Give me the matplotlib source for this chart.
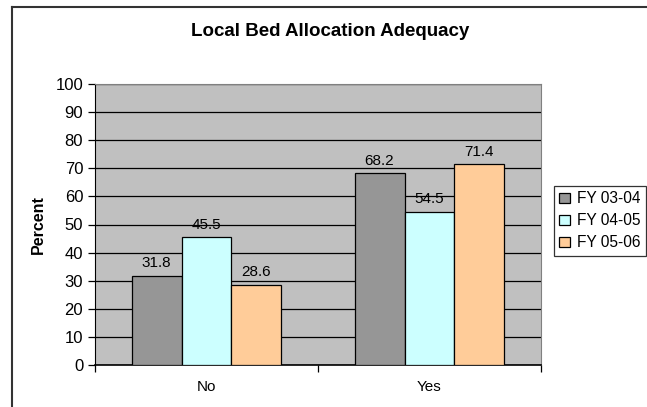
import numpy as np
from matplotlib import pyplot as plt
from matplotlib.lines import Line2D

categories = ['No', 'Yes']
series = ['FY 03-04', 'FY 04-05', 'FY 05-06']
fy0304 = [31.8, 68.2]
fy0405 = [45.5, 54.5]
fy0506 = [28.6, 71.4]
colors = ['#969696', '#CCFFFF', '#FFCC99']

plt.rcParams['font.family'] = ['Liberation Sans', 'DejaVu Sans']

fig = plt.figure(figsize=(6.47, 4.07), dpi=100)
ax = fig.add_axes([95/647, 42/407, 446/647, 281/407])
ax.set_facecolor('#C0C0C0')

x = np.arange(len(categories))
w = 0.224
for i, (vals, col) in enumerate(zip([fy0304, fy0405, fy0506], colors)):
    pos = x + (i - 1) * w
    bars = ax.bar(pos, vals, w, color=col, edgecolor='black', linewidth=0.9,
                  label=series[i], zorder=3)
    for p, v in zip(pos, vals):
        ax.annotate(f'{v}', (p, v), xytext=(0, 4), textcoords='offset points',
                    ha='center', va='bottom', fontsize=11)

ax.set_ylim(0, 100)
ax.set_xlim(-0.5, 1.5)
ax.set_yticks(range(0, 101, 10))
ax.yaxis.grid(True, color='black', linewidth=0.9, zorder=0)
ax.set_axisbelow(True)
ax.tick_params(axis='y', labelsize=12, length=5, direction='out', width=0.9)

ax.set_xticks([-0.5, 0.5, 1.5])
ax.set_xticklabels([])
ax.tick_params(axis='x', which='major', length=5, width=0.9)
ax.set_xticks(x, minor=True)
ax.set_xticklabels(categories, minor=True)
ax.tick_params(axis='x', which='minor', length=0, labelsize=11, pad=11)

for s in ['top', 'right']:
    ax.spines[s].set_color('#808080')
ax.spines['left'].set_color('black')
ax.spines['bottom'].set_color('black')
ax.spines['bottom'].set_linewidth(1.2)

ax.set_ylabel('Percent', fontsize=11.5, fontweight='bold', labelpad=7)
fig.text(330/647, 1 - 32/407, 'Local Bed Allocation Adequacy', ha='center',
         va='center', fontsize=13.5, fontweight='bold')

leg = ax.legend(loc='upper left', bbox_to_anchor=(554/647, 1 - 186/407),
                bbox_transform=fig.transFigure, fontsize=11.2, frameon=True,
                fancybox=False, edgecolor='black', handlelength=0.7,
                handleheight=0.7, handletextpad=0.4, borderpad=0.35,
                labelspacing=0.45, borderaxespad=0)
leg.get_frame().set_linewidth(0.9)

fig.add_artist(Line2D([12/647, 12/647], [0, 1 - 7/407], color='#333333', lw=1.5))
fig.add_artist(Line2D([12/647, 1], [1 - 7/407, 1 - 7/407], color='#333333', lw=1.5))

fig.savefig('out.png', dpi=100)
